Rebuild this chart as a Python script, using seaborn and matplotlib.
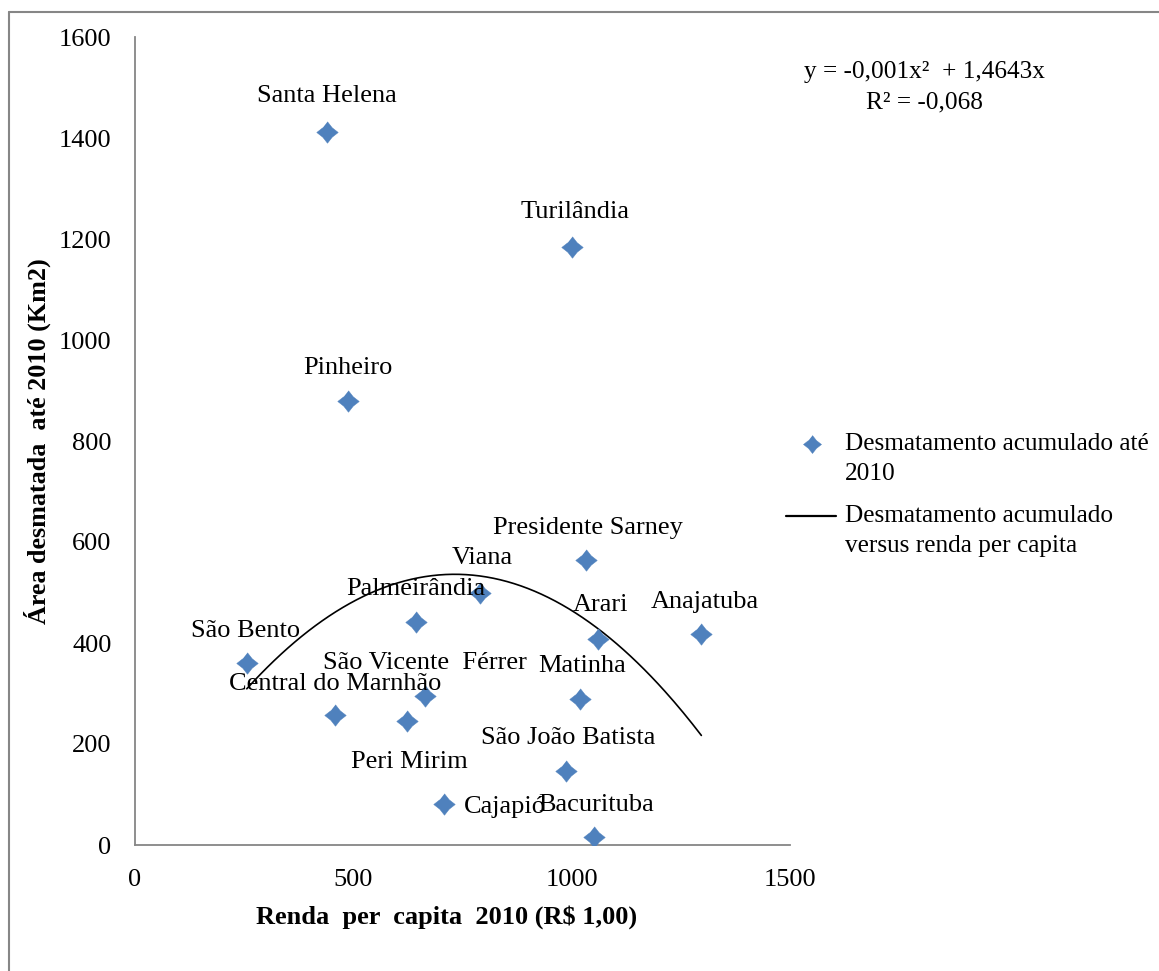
import numpy as np
import pandas as pd
import matplotlib
matplotlib.use("Agg")
import matplotlib.pyplot as plt
from matplotlib.lines import Line2D
import seaborn as sns

# ---------------- data ----------------
municipios = ["Santa Helena", "Turilândia", "Pinheiro", "Presidente Sarney", "Viana",
              "Palmeirândia", "Arari", "Anajatuba", "São Bento", "São Vicente  Férrer",
              "Central do Marnhão", "Peri Mirim", "Matinha", "São João Batista",
              "Cajapió", "Bacurituba"]
renda = [439, 1001, 488, 1033, 791, 644, 1060, 1297, 256, 663, 457, 622, 1019, 988, 708, 1052]
area = [1411, 1184, 879, 564, 500, 441, 407, 417, 361, 296, 258, 245, 289, 146, 82, 15]
# label offsets (pixels: dx right, dy up)
lab_dx = [0, 3, 0, 2, 2, 0, 3, 3, -1, 0, 1, 3, 2, 2, 61, 2]
lab_dy = [36, 35, 33, 32, 34, 33, 34, 32, 32, 33, 31, -41, 33, 33, -3, 32]

# trend line (from displayed equation, intercept 0)
coef_a = -0.001
coef_b = 1.4643
eq_text = "y = -0,001x²  + 1,4643x"
r2_text = "R² = -0,068"

legend_pts = ["Desmatamento acumulado até", "2010"]
legend_line = ["Desmatamento acumulado", "versus renda per capita"]
xlabel = "Renda  per  capita  2010 (R$ 1,00)"
ylabel = "Área desmatada  até 2010 (Km2)"

xticks = [0, 500, 1000, 1500]
yticks = [0, 200, 400, 600, 800, 1000, 1200, 1400, 1600]

df = pd.DataFrame({"renda": renda, "area": area, "municipio": municipios})
xs = np.linspace(min(renda), max(renda), 200)
df_tr = pd.DataFrame({"renda": xs, "area": coef_a * xs ** 2 + coef_b * xs})

# ---------------- style ----------------
sns.set_theme(style="white")
plt.rcParams["font.family"] = ["Liberation Serif", "DejaVu Serif"]
plt.rcParams["text.color"] = "black"
plt.rcParams["axes.labelcolor"] = "black"
BLUE = "#4F81BD"
GRAY = "#868686"
W, H = 1159, 971
DPI = 100
PX = 72.0 / DPI  # points per pixel

fig = plt.figure(figsize=(W / DPI, H / DPI), dpi=DPI)
fig.patch.set_facecolor("white")
ax = fig.add_axes([135 / W, 1 - 845 / H, (790 - 135) / W, (845 - 37) / H])

# excel-like diamond with slightly concave sides
c = 0.44
verts = [(0, 1), (c, c), (1, 0), (c, -c), (0, -1), (-c, -c), (-1, 0), (-c, c)]

sns.lineplot(data=df_tr, x="renda", y="area", ax=ax, color="black", linewidth=1.2,
             legend=False, zorder=2)
sns.scatterplot(data=df, x="renda", y="area", ax=ax, marker=verts, s=240, color=BLUE,
                edgecolor=BLUE, linewidth=0.3, legend=False, zorder=3)

LAB_FS = 19
for m, x, y, dx, dy in zip(municipios, renda, area, lab_dx, lab_dy):
    ax.annotate(m, (x, y), xytext=(dx * PX, dy * PX), textcoords="offset points",
                ha="center", va="center", fontsize=LAB_FS, color="black", zorder=4)

ax.set_xlim(0, 1500)
ax.set_ylim(0, 1600)
ax.set_xticks(xticks)
ax.set_yticks(yticks)
ax.set_xticklabels([str(v) for v in xticks])
ax.set_yticklabels([str(v) for v in yticks])
ax.tick_params(axis="both", labelsize=19, colors=GRAY, labelcolor="black",
               direction="out", width=1.1, length=5)
ax.tick_params(axis="y", pad=12)
ax.tick_params(axis="x", pad=11, length=6)
for s in ["top", "right"]:
    ax.spines[s].set_visible(False)
for s in ["left", "bottom"]:
    ax.spines[s].set_color(GRAY)
    ax.spines[s].set_linewidth(1.3)
ax.grid(False)

ax.set_xlabel(xlabel, fontsize=19, fontweight="bold", color="black")
ax.set_ylabel(ylabel, fontsize=18.8, fontweight="bold", color="black")
ax.xaxis.set_label_coords((447 - 135) / 655, -(905 - 845) / 808)
ax.xaxis.label.set_va("top")
ax.yaxis.set_label_coords(-(135 - 51) / 655, 0.5)

# equation
fig.text(924 / W, 1 - 72 / H, eq_text, ha="center", va="center", fontsize=18.2)
fig.text(924 / W, 1 - 102 / H, r2_text, ha="center", va="center", fontsize=18.2)

# legend (drawn as keys + text in figure pixels)
LEG_FS = 18.2
def fx(px):
    return px / W
def fy(py):
    return 1 - py / H

fig.add_artist(Line2D([fx(812)], [fy(444)], linestyle="none", marker=verts, markersize=13,
                      color=BLUE, markeredgewidth=0.3, transform=fig.transFigure))
fig.add_artist(Line2D([fx(786), fx(836)], [fy(516), fy(516)], color="black", linewidth=1.6,
                      transform=fig.transFigure))
for i, line in enumerate(legend_pts):
    fig.text(fx(845), fy(444 + 30 * i), line, ha="left", va="center", fontsize=LEG_FS)
for i, line in enumerate(legend_line):
    fig.text(fx(845), fy(516 + 30 * i), line, ha="left", va="center", fontsize=LEG_FS)

# outer frame (top and left edges visible)
fig.add_artist(Line2D([fx(9), 1.0], [fy(12), fy(12)], color=GRAY, linewidth=1.5,
                      transform=fig.transFigure))
fig.add_artist(Line2D([fx(9), fx(9)], [0, fy(12)], color=GRAY, linewidth=1.5,
                      transform=fig.transFigure))

fig.savefig("out.png", dpi=DPI, facecolor="white")
